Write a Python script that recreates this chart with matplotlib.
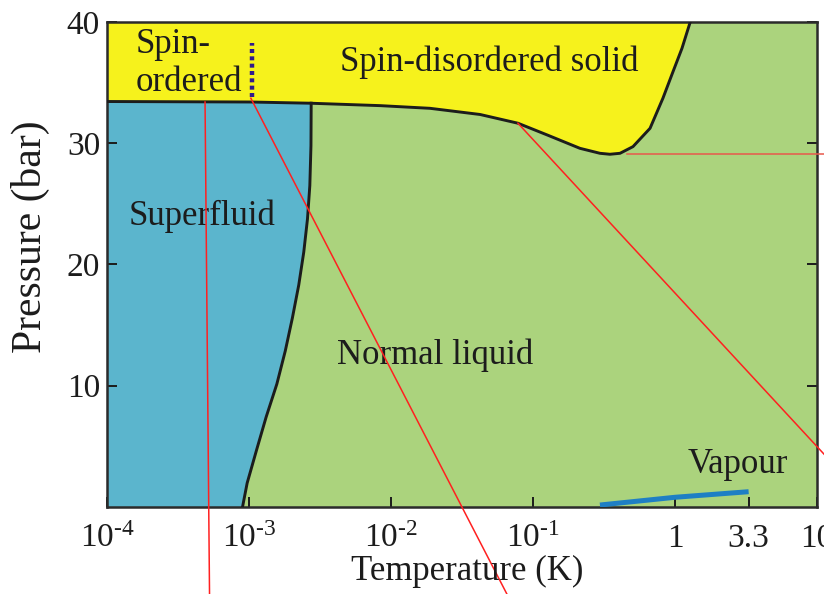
import numpy as np
import matplotlib
matplotlib.use("Agg")
import matplotlib.pyplot as plt

plt.rcParams['font.family'] = ['Liberation Serif', 'DejaVu Serif']
plt.rcParams['mathtext.fontset'] = 'custom'
plt.rcParams['mathtext.rm'] = 'Liberation Serif'
plt.rcParams['mathtext.it'] = 'Liberation Serif:italic'

# melting curve (solid / liquid boundary), T in K, P in bar
melt_T = [1.0e-4, 1.02e-3, 2.7e-3, 8.4e-3, 1.88e-2, 4.24e-2, 7.83e-2, 0.126, 0.214,
          0.296, 0.348, 0.41, 0.506, 0.667, 0.822, 0.968, 1.12, 1.28]
melt_P = [33.44, 33.40, 33.30, 33.10, 32.88, 32.37, 31.65, 30.68, 29.58,
          29.17, 29.09, 29.17, 29.72, 31.23, 33.71, 35.90, 37.83, 40.0]

# superfluid transition line, from P = 0 up to the melting curve
sf_T = [9.0e-4, 9.7e-4, 1.13e-3, 1.32e-3, 1.57e-3, 1.80e-3, 2.02e-3, 2.24e-3,
        2.43e-3, 2.58e-3, 2.68e-3, 2.73e-3, 2.74e-3]
sf_P = [0.0, 1.97, 4.70, 7.42, 10.14, 12.87, 15.59, 18.31,
        21.03, 23.75, 26.50, 29.80, 33.30]

# spin-ordering transition in the solid
order_T = [1.05e-3, 1.05e-3]
order_P = [33.8, 38.3]

# liquid-vapour line up to the critical point
vap_T = [0.296, 1.0, 3.3]
vap_P = [0.16, 0.8, 1.26]

# red guide lines
red1_T, red1_P = [4.9e-4, 5.27e-4], [33.40, -7.2]
red2_T, red2_P = [1.03e-3, 0.0656], [33.71, -7.2]
red3_T, red3_P = [0.0783, 11.2], [31.65, 4.36]
red4_T, red4_P = [0.456, 11.2], [29.09, 29.09]

xticks = [1e-4, 1e-3, 1e-2, 1e-1, 1, 3.3, 10]
xticklabels = ['$10^{\u20104}$', '$10^{\u20103}$', '$10^{\u20102}$', '$10^{\u20101}$', '1', '3.3', '10']
yticks = [10, 20, 30, 40]

yellow = '#f6f21c'
blue = '#5bb5cd'
green = '#abd37d'
ink = '#1c1c1c'

fig = plt.figure(figsize=(8.24, 5.94), dpi=100)
ax = fig.add_axes([0.1299, 0.1465, 0.8616, 0.8165])
ax.set_xscale('log')
ax.set_xlim(1e-4, 10)
ax.set_ylim(0, 40)
ax.set_facecolor(green)

# solid above the melting curve
ax.fill_between(melt_T, melt_P, 40, color=yellow, lw=0, zorder=1)

# superfluid: left of the transition line, below the melting curve
low = [i for i, t in enumerate(melt_T) if t <= sf_T[-1]]
poly_T = sf_T + [melt_T[i] for i in reversed(low)] + [1e-4]
poly_P = sf_P + [melt_P[i] for i in reversed(low)] + [0.0]
ax.fill(poly_T, poly_P, color=blue, lw=0, zorder=1)

ax.plot(melt_T, melt_P, color=ink, lw=2.1, zorder=4)
ax.plot(sf_T, sf_P, color=ink, lw=2.1, zorder=4)
ax.plot(order_T, order_P, color='#301a8c', lw=3.2, dashes=(0.9, 0.75), zorder=4)
ax.plot(vap_T, vap_P, color='#1f7fc4', lw=3.6, zorder=4, solid_capstyle='butt')

for tt, pp, c in [(red1_T, red1_P, '#ff2020'), (red2_T, red2_P, '#ff2020'),
                  (red3_T, red3_P, '#ff2020'), (red4_T, red4_P, '#e8584c')]:
    ax.plot(tt, pp, color=c, lw=1.1, clip_on=False, zorder=6)

txt = dict(fontsize=25, color=ink, zorder=5)
ax.text(1.6e-4, 36.6, 'Spin-\nordered', ha='left', va='center', linespacing=1.2, **txt)
ax.text(4.9e-2, 36.7, 'Spin-disordered solid', ha='center', va='center', **txt)
ax.text(1.41e-4, 24.0, 'Superfluid', ha='left', va='center', **txt)
ax.text(4.17e-3, 12.5, 'Normal liquid', ha='left', va='center', **txt)
ax.text(1.23, 3.5, 'Vapour', ha='left', va='center', **txt)

ax.set_xticks(xticks)
ax.set_xticklabels(xticklabels)
ax.xaxis.set_minor_locator(matplotlib.ticker.NullLocator())
ax.set_yticks(yticks)
ax.tick_params(direction='in', length=7, width=1.4, labelsize=24, colors=ink)
ax.tick_params(axis='x', pad=12)
ax.tick_params(axis='y', pad=5, right=True)
for s in ax.spines.values():
    s.set_linewidth(1.8)
    s.set_color('#2b2b2b')

fig.text(467 / 824, 1 - 571 / 594, 'Temperature (K)', ha='center', va='center', fontsize=25, color=ink)
fig.text(30 / 824, 1 - 237 / 594, 'Pressure (bar)', ha='center', va='center', rotation=90,
         fontsize=30, color=ink)

fig.savefig('out.png', dpi=100)
